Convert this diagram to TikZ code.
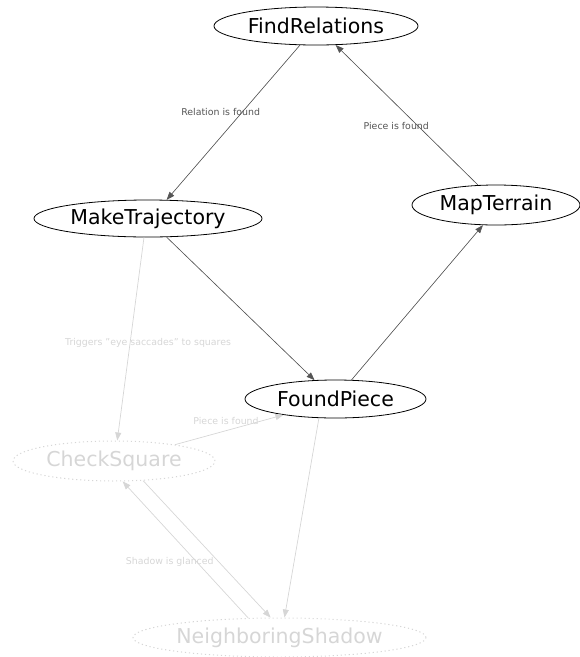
\documentclass[tikz,border=0pt]{standalone}
\usepackage{fontspec}
\setmainfont{DejaVu Sans}
\usetikzlibrary{shapes.geometric,arrows.meta}
\definecolor{edgedark}{HTML}{555555}
\definecolor{faint}{HTML}{D6D6D6}
\tikzset{
  mainnode/.style={ellipse,draw=black,line width=0.8pt,inner sep=0pt,text=black,font=\fontsize{20.5}{22}\selectfont},
  fadenode/.style={ellipse,draw=faint,dash pattern=on 1.2pt off 2.8pt,line width=1pt,inner sep=0pt,text=faint,font=\fontsize{20.5}{22}\selectfont},
  darkedge/.style={draw=edgedark,line width=0.6pt,-{Triangle[length=8pt,width=6pt]},fill=edgedark},
  fadeedge/.style={draw=faint,line width=0.7pt,-{Triangle[length=8pt,width=6pt,fill=faint]}},
  darklab/.style={text=edgedark,font=\fontsize{9.4}{10}\selectfont,inner sep=1pt},
  fadelab/.style={text=faint,font=\fontsize{9.4}{10}\selectfont,inner sep=1pt}
}
\begin{document}
\begin{tikzpicture}[x=1pt,y=-1pt]
\useasboundingbox (0,0) rectangle (580,657);
\node[mainnode,minimum width=204pt,minimum height=38pt] (fr) at (316,26) {FindRelations};
\node[mainnode,minimum width=228pt,minimum height=37pt] (mt) at (148,218.5) {MakeTrajectory};
\node[mainnode,minimum width=168pt,minimum height=40pt] (map) at (496,205) {MapTerrain};
\node[mainnode,minimum width=181pt,minimum height=38pt] (fp) at (335.5,399) {FoundPiece};
\node[fadenode,minimum width=202pt,minimum height=40pt] (cs) at (114,461) {CheckSquare};
\node[fadenode,minimum width=293pt,minimum height=39pt] (ns) at (279.5,637.5) {NeighboringShadow};

\draw[darkedge] (fr.230.7) -- node[darklab,pos=0.43,xshift=-22pt]{Relation is found} (mt.45);
\draw[darkedge] (map.132) -- node[darklab,pos=0.42,xshift=-22pt]{Piece is found} (fr.316);
\draw[darkedge] (mt.-45) -- (fp.138);
\draw[darkedge] (fp.50) -- (map.237.5);
\draw[fadeedge] (mt.258) -- node[fadelab,pos=0.52,xshift=18pt]{Triggers "eye saccades" to squares} (cs.81);
\draw[fadeedge] (cs.15) -- node[fadelab,pos=0.47,yshift=10pt]{Piece is found} (fp.197);
\draw[fadeedge] (cs.326) -- (ns.114);
\draw[fadeedge] (ns.148) -- node[fadelab,pos=0.41,xshift=-27pt]{Shadow is glanced} (cs.293.5);
\draw[fadeedge] (fp.229) -- (ns.76);
\end{tikzpicture}
\end{document}
